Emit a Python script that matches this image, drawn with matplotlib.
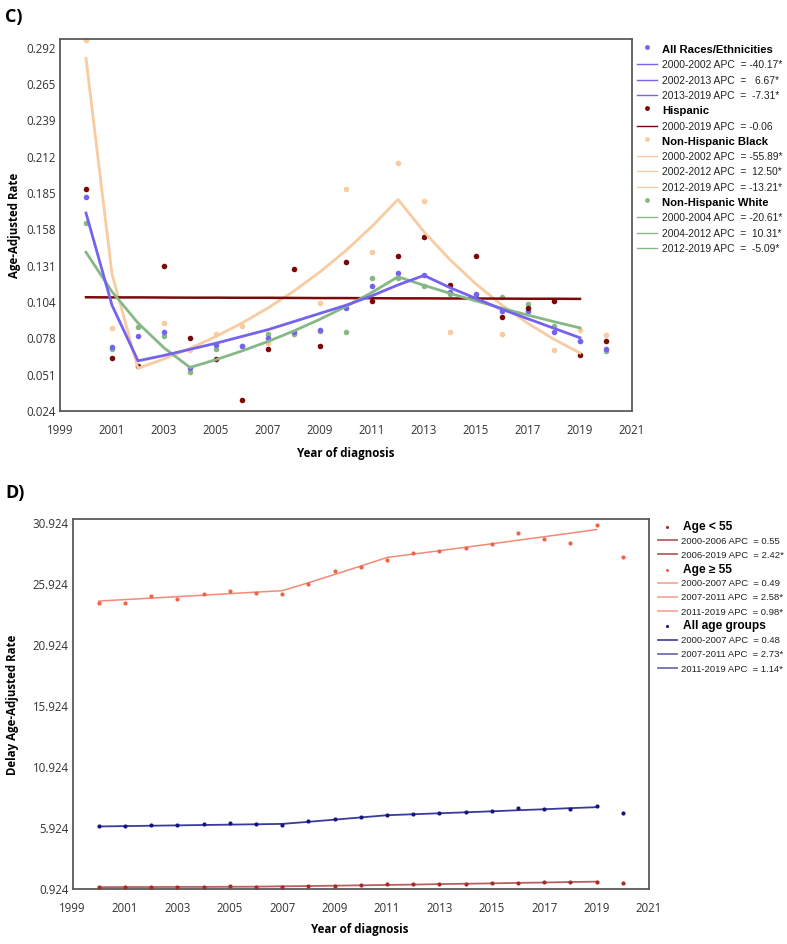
import matplotlib
matplotlib.use('Agg')
import matplotlib.pyplot as plt
from matplotlib.lines import Line2D
import numpy as np

plt.rcParams['font.family'] = ['Open Sans', 'DejaVu Sans']

W, H = 787, 944

# ---------------- panel C data ----------------
years = np.arange(2000, 2021)
fit_years = np.arange(2000, 2020)

all_pts = [0.182, 0.071, 0.079, 0.082, 0.056, 0.073, 0.072, 0.078, 0.082, 0.084, 0.100,
           0.116, 0.126, 0.124, 0.112, 0.110, 0.098, 0.098, 0.082, 0.076, 0.070]
hisp_pts = [0.188, 0.063, 0.057, 0.131, 0.078, 0.062, 0.032, 0.070, 0.129, 0.072, 0.134,
            0.105, 0.138, 0.152, 0.117, 0.138, 0.093, 0.100, 0.105, 0.065, 0.076]
black_pts = [0.298, 0.085, 0.057, 0.089, 0.069, 0.081, 0.087, 0.074, 0.081, 0.104, 0.188,
             0.141, 0.207, 0.179, 0.082, 0.110, 0.081, 0.097, 0.069, 0.084, 0.080]
white_pts = [0.163, 0.070, 0.086, 0.079, 0.053, 0.070, 0.072, 0.081, 0.081, 0.083, 0.082,
             0.122, 0.122, 0.116, 0.110, 0.108, 0.108, 0.103, 0.087, 0.076, 0.068]

all_fit = [0.170, 0.102, 0.061, 0.065, 0.0695, 0.074, 0.079, 0.084, 0.090, 0.096,
           0.102, 0.109, 0.117, 0.124, 0.115, 0.107, 0.099, 0.092, 0.085, 0.078]
hisp_fit = [0.1079, 0.1078, 0.1078, 0.1077, 0.1076, 0.1076, 0.1075, 0.1075, 0.1074, 0.1073,
            0.1073, 0.1072, 0.1071, 0.1071, 0.1070, 0.1070, 0.1069, 0.1068, 0.1068, 0.1067]
black_fit = [0.284, 0.125, 0.0555, 0.0624, 0.0702, 0.0790, 0.0889, 0.1000, 0.1125, 0.1266,
             0.1424, 0.1602, 0.180, 0.1562, 0.1356, 0.1177, 0.1021, 0.0886, 0.0769, 0.0668]
white_fit = [0.1411, 0.1120, 0.0889, 0.0706, 0.0561, 0.0619, 0.0683, 0.0753, 0.0831, 0.0917,
             0.1011, 0.1115, 0.1230, 0.1167, 0.1108, 0.1052, 0.0998, 0.0947, 0.0899, 0.0853]

c_yticks = ['0.024', '0.051', '0.078', '0.104', '0.131', '0.158', '0.185', '0.212', '0.239', '0.265', '0.292']

# ---------------- panel D data ----------------
lt55_pts = [1.09, 1.09, 1.09, 1.09, 1.12, 1.17, 1.09, 1.09, 1.20, 1.22, 1.28,
            1.33, 1.36, 1.38, 1.38, 1.44, 1.47, 1.55, 1.55, 1.55, 1.44]
ge55_pts = [24.41, 24.41, 24.96, 24.72, 25.10, 25.37, 25.19, 25.13, 25.92, 26.96, 27.34,
            27.86, 28.46, 28.60, 28.90, 29.20, 30.13, 29.58, 29.31, 30.78, 28.10]
allage_pts = [6.09, 6.09, 6.20, 6.15, 6.25, 6.33, 6.25, 6.22, 6.50, 6.71, 6.83,
              7.01, 7.12, 7.18, 7.23, 7.37, 7.61, 7.53, 7.50, 7.75, 7.15]

lt55_fit = [1.10, 1.11, 1.11, 1.12, 1.12, 1.13, 1.14, 1.17, 1.19, 1.22,
            1.25, 1.28, 1.31, 1.35, 1.38, 1.41, 1.45, 1.48, 1.52, 1.55]
ge55_fit = [24.53, 24.65, 24.77, 24.89, 25.01, 25.14, 25.26, 25.38, 26.03, 26.71,
            27.40, 28.10, 28.38, 28.65, 28.94, 29.22, 29.51, 29.80, 30.09, 30.39]
allage_fit = [6.07, 6.10, 6.13, 6.16, 6.19, 6.22, 6.25, 6.28, 6.45, 6.63,
              6.81, 6.99, 7.07, 7.15, 7.23, 7.31, 7.40, 7.48, 7.57, 7.65]

d_yticks = ['0.924', '5.924', '10.924', '15.924', '20.924', '25.924', '30.924']
xticks = np.arange(1999, 2022, 2)

# colours
c_blue = '#7463EE'
c_hisp = '#7A0A0A'
c_black = '#F8CBA0'
c_white = '#86B886'
d_lt = '#A52A2A'
d_lt_line = '#B86060'
d_ge = '#F0624A'
d_ge_line = '#F28A76'
d_all = '#15157F'
d_all_line = '#3A3A9E'

LEGFONT = ['Liberation Sans', 'DejaVu Sans']

fig = plt.figure(figsize=(W / 100, H / 100), dpi=100)


def fx(px):
    return px / W


def fy(py):
    return 1 - py / H


def style_axes(ax):
    for s in ax.spines.values():
        s.set_color('#5a5a5a')
        s.set_linewidth(1.3)
    ax.tick_params(length=0, labelsize=8.3, colors='#333333')
    ax.tick_params(axis='y', pad=3)
    ax.tick_params(axis='x', pad=9)
    ax.set_xticks(xticks)
    ax.set_xticklabels([str(x) for x in xticks])


# ================= panel C =================
axc = fig.add_axes([fx(60), fy(411), fx(632) - fx(60), fy(39) - fy(411)])
axc.set_xlim(1999, 2021)
axc.set_ylim(0.024, 0.2984)
style_axes(axc)
yt = np.linspace(0.024, 0.292, 11)
axc.set_yticks(yt)
axc.set_yticklabels(c_yticks)

axc.scatter(years, black_pts, s=16, color=c_black, zorder=2, clip_on=False, linewidths=0)
axc.scatter(years, white_pts, s=16, color=c_white, zorder=3, linewidths=0)
axc.scatter(years, all_pts, s=16, color=c_blue, zorder=3, linewidths=0)
axc.scatter(years, hisp_pts, s=16, color=c_hisp, zorder=4, linewidths=0)
axc.plot(fit_years, black_fit, color=c_black, lw=2, zorder=5)
axc.plot(fit_years, hisp_fit, color=c_hisp, lw=1.8, zorder=5)
axc.plot(fit_years, white_fit, color=c_white, lw=2, zorder=6)
axc.plot(fit_years, all_fit, color=c_blue, lw=2, zorder=6)

fig.text(fx(346), fy(453), 'Year of diagnosis', fontsize=8.3, fontweight='bold',
         ha='center', va='center')
fig.text(fx(15), fy(225), 'Age-Adjusted Rate', fontsize=8.3, fontweight='bold',
         ha='center', va='center', rotation=90)
fig.text(fx(5), fy(17), 'C)', fontsize=13, fontweight='bold', va='center')

# legend C
leg_c = [
    ('h', 'All Races/Ethnicities', c_blue),
    ('l', '2000-2002 APC  = -40.17*', c_blue),
    ('l', '2002-2013 APC  =   6.67*', c_blue),
    ('l', '2013-2019 APC  =  -7.31*', c_blue),
    ('h', 'Hispanic', c_hisp),
    ('l', '2000-2019 APC  = -0.06', c_hisp),
    ('h', 'Non-Hispanic Black', c_black),
    ('l', '2000-2002 APC  = -55.89*', c_black),
    ('l', '2002-2012 APC  =  12.50*', c_black),
    ('l', '2012-2019 APC  = -13.21*', c_black),
    ('h', 'Non-Hispanic White', c_white),
    ('l', '2000-2004 APC  = -20.61*', c_white),
    ('l', '2004-2012 APC  =  10.31*', c_white),
    ('l', '2012-2019 APC  =  -5.09*', c_white),
]
for i, (kind, txt, col) in enumerate(leg_c):
    y = 50 + i * 15.3
    if kind == 'h':
        fig.add_artist(Line2D([fx(647)], [fy(y - 3)], marker='o', ms=3.5, color=col, mec='none'))
        fig.text(fx(662), fy(y), txt, fontsize=8.1, fontweight='bold', va='center',
                 family=LEGFONT)
    else:
        fig.add_artist(Line2D([fx(637), fx(657)], [fy(y - 1), fy(y - 1)], color=col, lw=1))
        fig.text(fx(662), fy(y), txt, fontsize=7.4, va='center', color='#222222',
                 family=LEGFONT)

# ================= panel D =================
axd = fig.add_axes([fx(72.7), fy(889.3), fx(649) - fx(72.7), fy(519) - fy(889.3)])
axd.set_xlim(1999, 2021)
axd.set_ylim(0.924, 31.25)
style_axes(axd)
axd.set_yticks(np.arange(0.924, 31, 5))
axd.set_yticklabels(d_yticks)

axd.plot(fit_years, ge55_fit, color=d_ge_line, lw=1.1, zorder=2)
axd.plot(fit_years, allage_fit, color=d_all_line, lw=1.3, zorder=2)
axd.plot(fit_years, lt55_fit, color=d_lt_line, lw=1.3, zorder=2)
axd.scatter(years, ge55_pts, s=9, color=d_ge, marker='o', zorder=3, linewidths=0)
axd.scatter(years, allage_pts, s=9, color=d_all, marker='o', zorder=3, linewidths=0)
axd.scatter(years, lt55_pts, s=9, color=d_lt, marker='o', zorder=3, linewidths=0)

fig.text(fx(360), fy(929), 'Year of diagnosis', fontsize=8.3, fontweight='bold',
         ha='center', va='center')
fig.text(fx(13), fy(705), 'Delay Age-Adjusted Rate', fontsize=8.3, fontweight='bold',
         ha='center', va='center', rotation=90)
fig.text(fx(5), fy(493), 'D)', fontsize=13, fontweight='bold', va='center')

leg_d = [
    ('h', 'Age < 55', d_lt, d_lt_line),
    ('l', '2000-2006 APC  = 0.55', d_lt, d_lt_line),
    ('l', '2006-2019 APC  = 2.42*', d_lt, d_lt_line),
    ('h', 'Age \u2265 55', d_ge, d_ge_line),
    ('l', '2000-2007 APC  = 0.49', d_ge, '#F5AA9C'),
    ('l', '2007-2011 APC  = 2.58*', d_ge, '#F5AA9C'),
    ('l', '2011-2019 APC  = 0.98*', d_ge, '#F5AA9C'),
    ('h', 'All age groups', d_all, d_all_line),
    ('l', '2000-2007 APC  = 0.48', d_all, '#4A4AA0'),
    ('l', '2007-2011 APC  = 2.73*', d_all, '#7070B8'),
    ('l', '2011-2019 APC  = 1.14*', d_all, '#7070B8'),
]
for i, (kind, txt, col, lcol) in enumerate(leg_d):
    y = 527 + i * 14.2
    if kind == 'h':
        fig.add_artist(Line2D([fx(667)], [fy(y)], marker='o', ms=2.2, color=col, mec='none'))
        fig.text(fx(683), fy(y), txt, fontsize=8.6, fontweight='bold', va='center',
                 family=LEGFONT)
    else:
        fig.add_artist(Line2D([fx(658), fx(677)], [fy(y - 1), fy(y - 1)], color=lcol, lw=1.3))
        fig.text(fx(681), fy(y), txt, fontsize=6.8, va='center', color='#222222',
                 family=LEGFONT)

fig.savefig('out.png', dpi=100)
